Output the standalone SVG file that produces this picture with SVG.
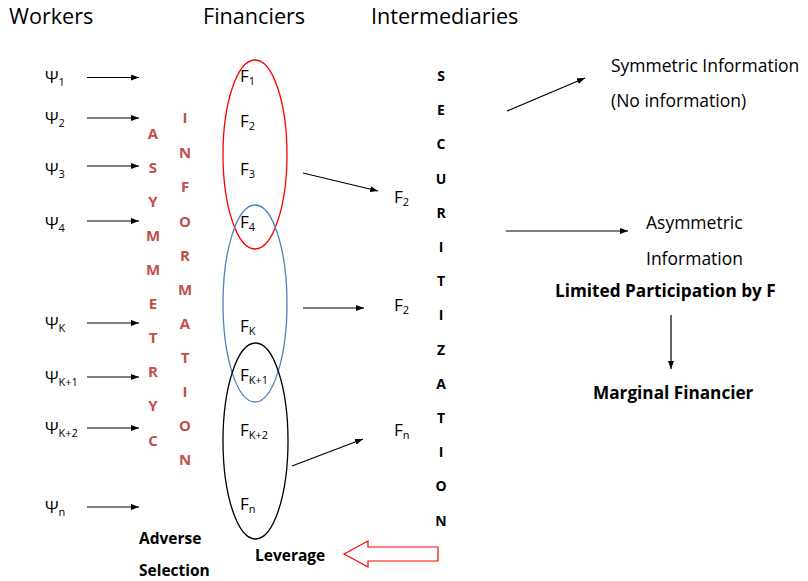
<svg xmlns="http://www.w3.org/2000/svg" width="808" height="581" viewBox="0 0 808 581">
<defs>
<marker id="ah" viewBox="0 0 8 6" refX="8" refY="3" markerWidth="8" markerHeight="6" orient="auto" markerUnits="userSpaceOnUse"><path d="M0,0 L8,3 L0,6 z" fill="#000"/></marker>
</defs>
<style>
text{font-family:"Open Sans","DejaVu Sans",sans-serif;fill:#000}
.h{font-size:21.6px}
.lab{font-size:17px}
.sub{font-size:11px}
.red{font-size:15px;font-weight:bold;fill:#C0504D;text-anchor:middle}
.sec{font-size:14px;font-weight:bold;text-anchor:middle}
.b{font-size:15.5px;font-weight:bold}
.bl{font-size:17.2px;font-weight:bold}
.r{font-size:17.5px}
.c{stroke:#000;stroke-width:1.2;fill:none;marker-end:url(#ah)}
</style>
<rect width="808" height="581" fill="#fff"/>
<g id="headers">
<text class="h" x="9" y="24">Workers</text>
<text class="h" x="203" y="24">Financiers</text>
<text class="h" x="371" y="24">Intermediaries</text>
</g>
<g id="workers">
<text class="lab" x="45" y="83">Ψ<tspan class="sub" dy="3">1</tspan></text>
<text class="lab" x="45" y="124">Ψ<tspan class="sub" dy="3">2</tspan></text>
<text class="lab" x="45" y="175">Ψ<tspan class="sub" dy="3">3</tspan></text>
<text class="lab" x="45" y="229">Ψ<tspan class="sub" dy="3">4</tspan></text>
<text class="lab" x="45" y="329">Ψ<tspan class="sub" dy="3">K</tspan></text>
<text class="lab" x="45" y="383">Ψ<tspan class="sub" dy="3">K+1</tspan></text>
<text class="lab" x="45" y="434">Ψ<tspan class="sub" dy="3">K+2</tspan></text>
<text class="lab" x="45" y="513">Ψ<tspan class="sub" dy="3">n</tspan></text>
</g>
<g id="asymmetry">
<text class="red" x="153" y="139">A</text>
<text class="red" x="153" y="173">S</text>
<text class="red" x="153" y="207">Y</text>
<text class="red" x="153" y="241">M</text>
<text class="red" x="153" y="275">M</text>
<text class="red" x="153" y="309">E</text>
<text class="red" x="153" y="343">T</text>
<text class="red" x="153" y="377">R</text>
<text class="red" x="153" y="411">Y</text>
<text class="red" x="153" y="446">C</text>
</g>
<g id="information">
<text class="red" x="185" y="123">I</text>
<text class="red" x="185" y="158">N</text>
<text class="red" x="185" y="192">F</text>
<text class="red" x="185" y="227">O</text>
<text class="red" x="185" y="261">R</text>
<text class="red" x="185" y="295">M</text>
<text class="red" x="185" y="329">A</text>
<text class="red" x="185" y="363">T</text>
<text class="red" x="185" y="397">I</text>
<text class="red" x="185" y="431">O</text>
<text class="red" x="185" y="465">N</text>
</g>
<g id="groups">
<ellipse cx="255" cy="154.5" rx="32" ry="94.5" fill="none" stroke="#FF0000" stroke-width="1.3"/>
<ellipse cx="255" cy="303.5" rx="32" ry="98.5" fill="none" stroke="#4F81BD" stroke-width="1.3"/>
<ellipse cx="255.5" cy="441" rx="32.5" ry="98" fill="none" stroke="#000" stroke-width="1.3"/>
</g>
<g id="financiers">
<text class="lab" x="240" y="82">F<tspan class="sub" dy="3">1</tspan></text>
<text class="lab" x="240" y="127">F<tspan class="sub" dy="3">2</tspan></text>
<text class="lab" x="240" y="175">F<tspan class="sub" dy="3">3</tspan></text>
<text class="lab" x="240" y="228">F<tspan class="sub" dy="3">4</tspan></text>
<text class="lab" x="240" y="332">F<tspan class="sub" dy="3">K</tspan></text>
<text class="lab" x="240" y="381">F<tspan class="sub" dy="3">K+1</tspan></text>
<text class="lab" x="240" y="436">F<tspan class="sub" dy="3">K+2</tspan></text>
<text class="lab" x="240" y="510">F<tspan class="sub" dy="3">n</tspan></text>
</g>
<g id="intermediaries">
<text class="lab" x="394" y="203">F<tspan class="sub" dy="3">2</tspan></text>
<text class="lab" x="394" y="311">F<tspan class="sub" dy="3">2</tspan></text>
<text class="lab" x="394" y="436">F<tspan class="sub" dy="3">n</tspan></text>
</g>
<g id="securitization">
<text class="sec" x="441" y="81">S</text>
<text class="sec" x="441" y="115">E</text>
<text class="sec" x="441" y="149">C</text>
<text class="sec" x="441" y="184">U</text>
<text class="sec" x="441" y="218">R</text>
<text class="sec" x="441" y="252">I</text>
<text class="sec" x="441" y="286">T</text>
<text class="sec" x="441" y="320">I</text>
<text class="sec" x="441" y="355">Z</text>
<text class="sec" x="441" y="389">A</text>
<text class="sec" x="441" y="423">T</text>
<text class="sec" x="441" y="457">I</text>
<text class="sec" x="441" y="491">O</text>
<text class="sec" x="441" y="526">N</text>
</g>
<g id="outcomes">
<text class="r" x="611" y="72">Symmetric Information</text>
<text class="r" x="611" y="107">(No information)</text>
<text class="r" x="646" y="229">Asymmetric</text>
<text class="r" x="646" y="265">Information</text>
<text class="bl" x="555" y="297">Limited Participation by F</text>
<text class="bl" x="593" y="399">Marginal Financier</text>
<text class="b" x="139" y="544">Adverse</text>
<text class="b" x="139" y="576">Selection</text>
<text class="b" x="255" y="561">Leverage</text>
</g>
<g id="connectors">
<line class="c" x1="87" y1="77.5" x2="139" y2="77.5"/>
<line class="c" x1="87" y1="118" x2="139" y2="118"/>
<line class="c" x1="87" y1="166" x2="139" y2="166"/>
<line class="c" x1="87" y1="221" x2="139" y2="221"/>
<line class="c" x1="87" y1="323" x2="139" y2="323"/>
<line class="c" x1="87" y1="377" x2="139" y2="377"/>
<line class="c" x1="87" y1="428" x2="139" y2="428"/>
<line class="c" x1="87" y1="507" x2="139" y2="507"/>
<line class="c" x1="303" y1="173" x2="378" y2="191"/>
<line class="c" x1="303" y1="308" x2="364" y2="308"/>
<line class="c" x1="292" y1="466" x2="363" y2="439"/>
<line class="c" x1="507" y1="111" x2="585" y2="78"/>
<line class="c" x1="506" y1="231" x2="628" y2="231"/>
<line class="c" x1="671" y1="315" x2="671" y2="369"/>
<polygon points="344,554 368,541 368,547 438,547 438,561 368,561 368,567" fill="#fff" stroke="#FF0000" stroke-width="1.2"/>
</g>
</svg>
